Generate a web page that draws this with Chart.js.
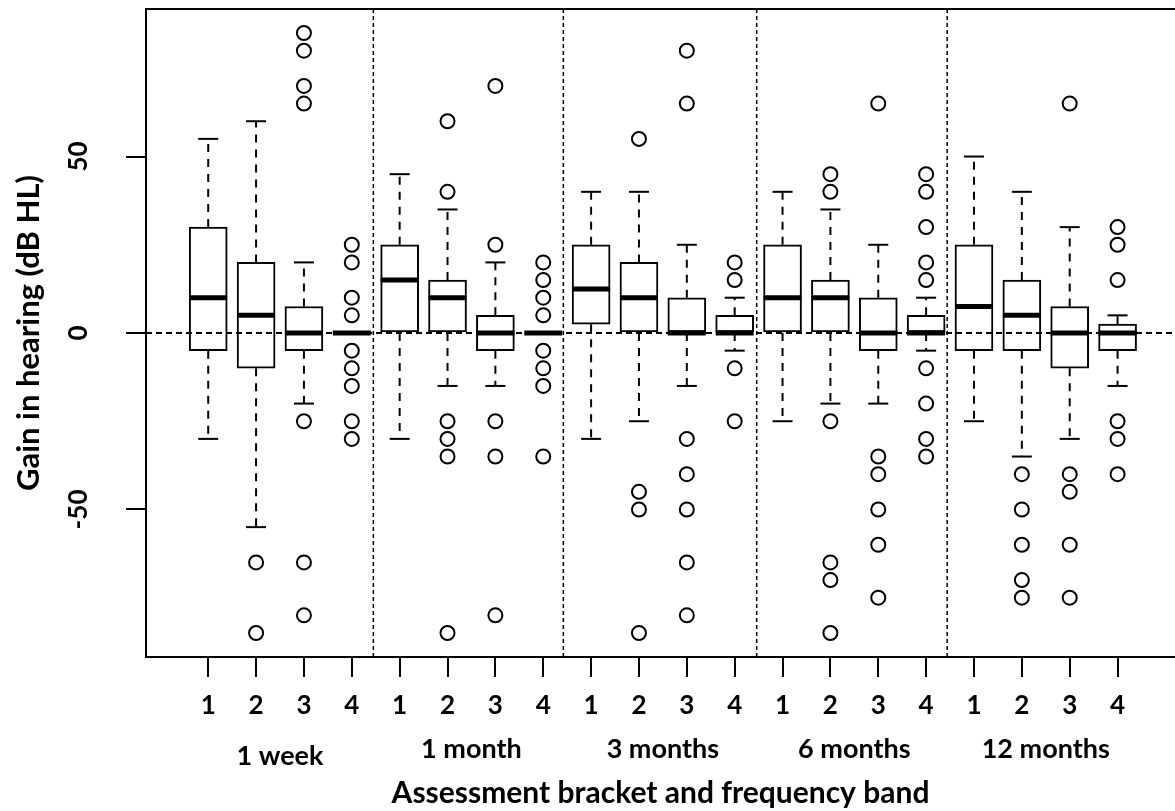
<!DOCTYPE html>
<html>
<head>
<meta charset="utf-8">
<title>Gain in hearing by assessment bracket and frequency band</title>
<script src="https://cdn.jsdelivr.net/npm/chart.js@4/dist/chart.umd.min.js"></script>
<style>
  html, body { margin: 0; padding: 0; background: #fff; }
  #wrap { width: 1175px; height: 811px; }
</style>
</head>
<body>
<div id="wrap"><canvas id="chart" width="1175" height="811"></canvas></div>
<script>
// Assessment brackets and the four frequency bands measured in each
const brackets = ['1 week', '1 month', '3 months', '6 months', '12 months'];
const bands = ['1', '2', '3', '4'];

// Box statistics per bracket/band (bracket-major order), dB HL
const lowerWhisker = [-30, -55, -20, 0,   -30, -15, -15, 0,   -30, -25, -15, -5,   -25, -20, -20, -5,   -25, -35, -30, -15];
const q1           = [ -5, -10,  -5, 0,     0,   0,  -5, 0,   2.5,   0,   0,  0,     0,   0,  -5,  0,    -5,  -5, -10,  -5];
const median       = [ 10,   5,   0, 0,    15,  10,   0, 0,  12.5,  10,   0,  0,    10,  10,   0,  0,   7.5,   5,   0,   0];
const q3           = [ 30,  20, 7.5, 0,    25,  15,   5, 0,    25,  20,  10,  5,    25,  15,  10,  5,    25,  15, 7.5, 2.5];
const upperWhisker = [ 55,  60,  20, 0,    45,  35,  20, 0,    40,  40,  25, 10,    40,  35,  25, 10,    50,  40,  30,   5];

// Values outside the whiskers
const outliers = [
  [], [-65, -85], [85, 80, 70, 65, -25, -65, -80], [25, 20, 10, 5, -5, -10, -15, -25, -30],
  [], [60, 40, -25, -30, -35, -85], [70, 25, -25, -35, -80], [20, 15, 10, 5, -5, -10, -15, -35],
  [], [55, -45, -50, -85], [80, 65, -30, -40, -50, -65, -80], [20, 15, -10, -25],
  [], [45, 40, -25, -65, -70, -85], [65, -35, -40, -50, -60, -75], [45, 40, 30, 20, 15, -10, -20, -30, -35],
  [], [-40, -50, -60, -70, -75], [65, -40, -45, -60, -75], [30, 25, 15, -25, -30, -40]
];

// Axis ticks and bracket dividers
const yTicks = [-50, 0, 50];
const separators = [4.45, 8.42, 12.46, 16.44];

const X_MIN = -0.3, X_MAX = 21.2;
const Y_MIN = -91.8, Y_MAX = 91.8;

const FONT = 'Lato, "DejaVu Sans", sans-serif';
const INK = '#000';

// Box positions 1..20, grouped four per bracket
const positions = brackets.flatMap((b, g) => bands.map((_, j) => g * bands.length + j + 1));
const groupCenters = brackets.map((b, g) => {
  const grp = positions.slice(g * bands.length, (g + 1) * bands.length);
  return grp.reduce((a, v) => a + v, 0) / grp.length;
});

const boxData = positions.map((p, k) => ({ x: p, y: [q1[k], q3[k]] }));
const medianData = positions.map((p, k) => ({ x: p, y: median[k] }));
const capData = positions.flatMap((p, k) => [{ x: p, y: upperWhisker[k] }, { x: p, y: lowerWhisker[k] }]);
const whiskerData = positions.flatMap((p, k) => [
  { x: p, y: q3[k] }, { x: p, y: upperWhisker[k] }, { x: p, y: null },
  { x: p, y: q1[k] }, { x: p, y: lowerWhisker[k] }, { x: p, y: null }
]);
const outlierData = positions.flatMap((p, k) => outliers[k].map(v => ({ x: p, y: v })));
const zeroLine = [{ x: X_MIN, y: 0 }, { x: X_MAX, y: 0 }];
const separatorData = separators.flatMap(s => [{ x: s, y: Y_MIN }, { x: s, y: Y_MAX }, { x: s, y: null }]);

new Chart(document.getElementById('chart'), {
  type: 'scatter',
  data: {
    datasets: [
      { // bracket dividers
        type: 'line', data: separatorData, order: 0,
        borderColor: INK, borderWidth: 1.5, borderDash: [4, 3],
        pointRadius: 0, spanGaps: false, fill: false, tension: 0
      },
      { // zero reference
        type: 'line', data: zeroLine, order: 0,
        borderColor: INK, borderWidth: 2, borderDash: [6, 4],
        pointRadius: 0, fill: false, tension: 0
      },
      { // medians
        type: 'scatter', data: medianData, order: 1,
        pointStyle: 'line', pointRadius: 19, pointBorderWidth: 5, pointBorderColor: INK
      },
      { // outliers
        type: 'scatter', data: outlierData, order: 2,
        pointStyle: 'circle', pointRadius: 7, pointBorderWidth: 2,
        pointBorderColor: INK, pointBackgroundColor: 'rgba(0,0,0,0)'
      },
      { // whisker caps
        type: 'scatter', data: capData, order: 3,
        pointStyle: 'line', pointRadius: 10, pointBorderWidth: 2, pointBorderColor: INK
      },
      { // whiskers
        type: 'line', data: whiskerData, order: 4,
        borderColor: INK, borderWidth: 2, borderDash: [8, 7], borderCapStyle: 'butt',
        pointRadius: 0, spanGaps: false, fill: false, tension: 0
      },
      { // interquartile boxes
        type: 'bar', data: boxData, order: 5,
        backgroundColor: '#fff', borderColor: INK, borderWidth: 2,
        borderSkipped: false, barThickness: 38, grouped: false
      }
    ]
  },
  options: {
    responsive: false,
    animation: false,
    events: [],
    devicePixelRatio: 1,
    layout: { autoPadding: false, padding: { top: 9, left: 0, right: 0, bottom: 0 } },
    plugins: { legend: { display: false }, tooltip: { enabled: false } },
    scales: {
      x: {
        type: 'linear', position: 'bottom', weight: 0,
        min: X_MIN, max: X_MAX, offset: false,
        afterBuildTicks: s => { s.ticks = positions.map(v => ({ value: v })); },
        ticks: {
          autoSkip: false, minRotation: 0, maxRotation: 0, padding: 13,
          color: INK, font: { family: FONT, size: 26, weight: 'bold' },
          callback: (v) => bands[(Math.round(v) - 1) % bands.length]
        },
        grid: { display: true, drawOnChartArea: false, drawTicks: true, tickLength: 20, color: INK, lineWidth: 2, offset: false },
        border: { display: true, color: INK, width: 2 },
        afterFit: s => { s.height = 68; s.paddingLeft = 0; s.paddingRight = 0; }
      },
      xg: {
        type: 'linear', position: 'bottom', weight: 1,
        min: X_MIN, max: X_MAX, offset: false,
        afterBuildTicks: s => { s.ticks = groupCenters.map(v => ({ value: v })); },
        ticks: {
          autoSkip: false, minRotation: 0, maxRotation: 0, padding: 8,
          color: INK,
          // the first bracket label sits a little lower than the others
          font: c => ({ family: FONT, size: 27, weight: 'bold', lineHeight: c.index === 0 ? 1.72 : 1.2 }),
          callback: (v, i) => brackets[i]
        },
        grid: { display: false, drawTicks: false, drawOnChartArea: false },
        border: { display: false },
        title: {
          display: true, text: 'Assessment bracket and frequency band',
          color: INK, font: { family: FONT, size: 30, weight: 'bold' },
          padding: { top: 0, bottom: 0 }
        },
        afterFit: s => { s.height = 86; s.paddingLeft = 0; s.paddingRight = 0; }
      },
      xt: {
        type: 'linear', position: 'top',
        min: X_MIN, max: X_MAX,
        ticks: { display: false },
        grid: { display: false, drawTicks: false, drawOnChartArea: false },
        border: { display: true, color: INK, width: 2 },
        afterFit: s => { s.height = 0; s.paddingLeft = 0; s.paddingRight = 0; }
      },
      y: {
        type: 'linear', position: 'left',
        min: Y_MIN, max: Y_MAX,
        afterBuildTicks: s => { s.ticks = yTicks.map(v => ({ value: v })); },
        ticks: {
          minRotation: 90, maxRotation: 90, crossAlign: 'center', padding: 27,
          color: INK, font: { family: FONT, size: 26, weight: 'bold' },
          callback: v => String(v)
        },
        grid: { display: true, drawOnChartArea: false, drawTicks: true, tickLength: 20, color: INK, lineWidth: 2 },
        border: { display: true, color: INK, width: 2 },
        title: {
          display: true, text: 'Gain in hearing (dB HL)',
          color: INK, font: { family: FONT, size: 31, weight: 'bold' },
          padding: { top: 10, bottom: 0 }
        },
        afterFit: s => { s.width = 146; s.paddingTop = 0; s.paddingBottom = 0; }
      }
    }
  }
});
</script>
</body>
</html>
